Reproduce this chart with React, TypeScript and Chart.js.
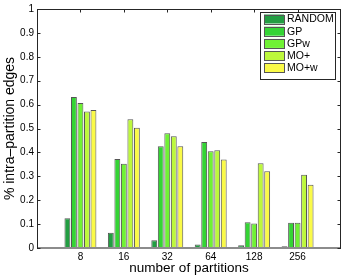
import React, { useEffect, useRef } from 'react';
import { Chart, registerables } from 'chart.js';

Chart.register(...registerables);

const categories = ['8', '16', '32', '64', '128', '256'];
const seriesNames = ['RANDOM', 'GP', 'GPw', 'MO+', 'MO+w'];
const randomValues = [0.125, 0.064, 0.032, 0.015, 0.011, 0.007];
const gpValues = [0.632, 0.372, 0.426, 0.443, 0.108, 0.106];
const gpwValues = [0.607, 0.352, 0.48, 0.405, 0.102, 0.106];
const moValues = [0.571, 0.539, 0.468, 0.409, 0.355, 0.307];
const mowValues = [0.577, 0.503, 0.426, 0.37, 0.321, 0.265];
const seriesColors = ['#229e42', '#34d434', '#70f234', '#bdf83c', '#fafa48'];
const yMin = 0;
const yMax = 1;
const yStep = 0.1;

const FONT = "'Liberation Sans', Arial, Helvetica, sans-serif";
const AXIS_COLOR = '#262626';

const framePlugin = {
  id: 'frame',
  afterDatasetsDraw(chart: any) {
    const { ctx, chartArea: a, scales } = chart;
    const xs = scales.x;
    const ys = scales.y;
    ctx.save();
    // baseline
    const y0 = ys.getPixelForValue(0);
    ctx.strokeStyle = '#8c8c8c';
    ctx.lineWidth = 2;
    ctx.beginPath();
    ctx.moveTo(a.left, y0);
    ctx.lineTo(a.right, y0);
    ctx.stroke();
    // frame
    ctx.strokeStyle = AXIS_COLOR;
    ctx.lineWidth = 1;
    ctx.beginPath();
    ctx.moveTo(a.left + 0.5, y0);
    ctx.lineTo(a.left + 0.5, a.top + 0.5);
    ctx.lineTo(a.right - 0.5, a.top + 0.5);
    ctx.lineTo(a.right - 0.5, y0);
    ctx.stroke();
    // y ticks (inward on both sides)
    ctx.beginPath();
    ys.ticks.forEach((t: any) => {
      const py = Math.round(ys.getPixelForValue(t.value)) + 0.5;
      ctx.moveTo(a.left, py);
      ctx.lineTo(a.left + 3.5, py);
      ctx.moveTo(a.right - 3.5, py);
      ctx.lineTo(a.right, py);
    });
    // x ticks top
    for (let i = 1; i <= categories.length; i++) {
      const px = Math.round(xs.getPixelForValue(i)) + 0.5;
      ctx.moveTo(px, a.top);
      ctx.lineTo(px, a.top + 3.5);
    }
    ctx.stroke();
    ctx.restore();
  },
  afterDraw(chart: any) {
    const { ctx } = chart;
    ctx.save();
    const bx = 260.5, by = 12.5, bw = 75, bh = 67;
    ctx.fillStyle = '#ffffff';
    ctx.fillRect(bx, by, bw, bh);
    ctx.strokeStyle = AXIS_COLOR;
    ctx.lineWidth = 1;
    ctx.strokeRect(bx, by, bw, bh);
    ctx.font = `10.5px ${FONT}`;
    ctx.textBaseline = 'middle';
    ctx.textAlign = 'left';
    seriesNames.forEach((name, i) => {
      const cy = 19 + i * 12.2;
      ctx.fillStyle = seriesColors[i];
      ctx.fillRect(264, cy - 4.5, 20, 9);
      ctx.strokeStyle = '#555555';
      ctx.strokeRect(264.5, Math.round(cy - 4.5) + 0.5, 20, 9);
      ctx.fillStyle = '#000000';
      ctx.fillText(name, 287, cy + 0.5);
    });
    ctx.restore();
  },
};

export default function App() {
  const ref = useRef<HTMLCanvasElement | null>(null);

  useEffect(() => {
    if (!ref.current) return;
    const labels = ['', ...categories, ''];
    const allSeries = [randomValues, gpValues, gpwValues, moValues, mowValues];
    const chart = new Chart(ref.current, {
      type: 'bar',
      data: {
        labels,
        datasets: allSeries.map((vals, i) => ({
          label: seriesNames[i],
          data: [null, ...vals, null],
          backgroundColor: seriesColors[i],
          borderColor: '#555555',
          borderWidth: 1,
          borderSkipped: 'bottom',
          categoryPercentage: 0.75,
          barPercentage: 0.9,
        })),
      },
      options: {
        responsive: false,
        animation: false,
        events: [],
        layout: { padding: { top: 9, right: 5, left: 0, bottom: 0 } },
        plugins: {
          legend: { display: false },
          tooltip: { enabled: false },
        },
        scales: {
          x: {
            type: 'category',
            offset: false,
            grid: { display: false, drawTicks: false },
            border: { display: false },
            ticks: {
              autoSkip: false,
              maxRotation: 0,
              minRotation: 0,
              padding: 3,
              color: '#000',
              font: { family: FONT, size: 10 },
            },
            title: {
              display: true,
              text: 'number of partitions',
              color: '#000',
              font: { family: FONT, size: 13.5 },
              padding: { top: 0, bottom: 2 },
            },
            afterFit(scale: any) {
              scale.height = 30;
            },
          },
          y: {
            min: yMin,
            max: yMax,
            grid: { display: false, drawTicks: false },
            border: { display: false },
            ticks: {
              stepSize: yStep,
              padding: 3,
              color: '#000',
              font: { family: FONT, size: 10 },
              callback: (v: any) => String(Number(Number(v).toFixed(1))),
            },
            title: {
              display: true,
              text: '% intra\u2013partition edges',
              color: '#000',
              font: { family: FONT, size: 14 },
              padding: { top: 2, bottom: 0 },
            },
            afterFit(scale: any) {
              scale.width = 37;
            },
          },
        },
      },
      plugins: [framePlugin],
    } as any);
    return () => chart.destroy();
  }, []);

  return (
    <div style={{ position: 'absolute', left: 0, top: 0, width: 346, height: 278, background: '#fff' }}>
      <canvas ref={ref} width={346} height={278} style={{ display: 'block' }} />
    </div>
  );
}
